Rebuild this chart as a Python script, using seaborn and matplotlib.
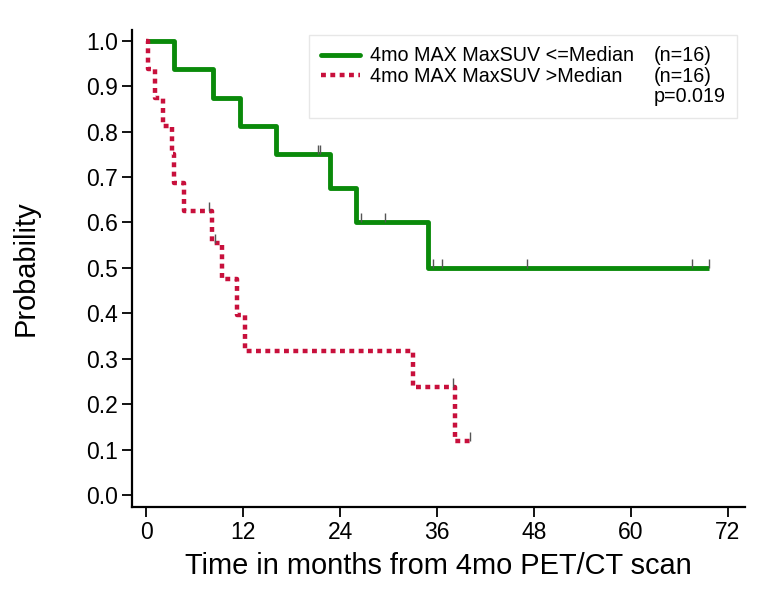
import matplotlib
matplotlib.use("Agg")
import matplotlib.pyplot as plt
from matplotlib.lines import Line2D
import seaborn as sns
import pandas as pd

# Kaplan-Meier steps (time in months, survival probability)
low_times = [0.0, 3.5, 8.3, 11.6, 16.1, 22.8, 26.0, 34.9, 69.7]
low_surv = [1.0, 0.9375, 0.875, 0.8125, 0.75, 0.675, 0.6, 0.5, 0.5]
low_cens_times = [21.3, 21.5, 26.6, 29.6, 35.5, 36.6, 47.1, 67.6, 69.7]
low_cens_surv = [0.75, 0.75, 0.6, 0.6, 0.5, 0.5, 0.5, 0.5, 0.5]

high_times = [0.0, 0.2, 1.1, 2.1, 3.2, 3.5, 4.7, 8.2, 9.4, 11.2, 12.2, 33.0, 38.2, 40.1]
high_surv = [1.0, 0.9375, 0.875, 0.8125, 0.75, 0.6875, 0.625, 0.5556, 0.4762,
             0.3968, 0.3175, 0.2381, 0.119, 0.119]
high_cens_times = [7.8, 8.5, 38.0, 40.1]
high_cens_surv = [0.625, 0.5556, 0.2381, 0.119]

group_labels = ["4mo MAX MaxSUV <=Median", "4mo MAX MaxSUV >Median"]
group_n = ["(n=16)", "(n=16)"]
p_text = "p=0.019"

x_ticks = [0, 12, 24, 36, 48, 60, 72]
y_ticks = [0.0, 0.1, 0.2, 0.3, 0.4, 0.5, 0.6, 0.7, 0.8, 0.9, 1.0]

green = "#0a8a0a"
red = "#c8103c"
red_dots = (0, (1.1, 1.0))

sns.set_style("ticks")
plt.rcParams["font.family"] = ["Liberation Sans", "DejaVu Sans"]
plt.rcParams["text.color"] = "black"

fig = plt.figure(figsize=(7.6, 5.97), dpi=100)
ax = fig.add_axes([0.174, 0.151, 0.806, 0.799])

low = pd.DataFrame({"time": low_times, "surv": low_surv})
high = pd.DataFrame({"time": high_times, "surv": high_surv})

sns.lineplot(data=low, x="time", y="surv", ax=ax, color=green, lw=3.5,
             drawstyle="steps-post", estimator=None, solid_capstyle="butt")
sns.lineplot(data=high, x="time", y="surv", ax=ax, color=red, lw=3.2,
             drawstyle="steps-post", estimator=None,
             linestyle=red_dots, dash_capstyle="butt")

# censor marks: short ticks sitting on top of the curve
for ct, cs in [(low_cens_times, low_cens_surv), (high_cens_times, high_cens_surv)]:
    ax.vlines(ct, cs, [s + 0.02 for s in cs], color="#555555", lw=1.0, zorder=3)

ax.set_xlim(-1.73, 74.1)
ax.set_ylim(-0.026, 1.024)
ax.set_xticks(x_ticks)
ax.set_yticks(y_ticks)
ax.set_yticklabels([f"{v:.1f}" for v in y_ticks])
ax.tick_params(axis="both", labelsize=16.5, length=7, width=1.3, color="black",
               labelcolor="black", pad=3)
for side in ["top", "right"]:
    ax.spines[side].set_visible(False)
for side in ["left", "bottom"]:
    ax.spines[side].set_linewidth(1.6)
    ax.spines[side].set_color("black")

ax.set_xlabel("Time in months from 4mo PET/CT scan", fontsize=20.9, labelpad=6, color="black")
ax.set_ylabel("Probability", fontsize=20.9, labelpad=34, color="black")

# legend: two columns, names with line handles and the n / p column on the right
blank = Line2D([], [], color="none")
handles = [Line2D([], [], color=green, lw=3.5),
           Line2D([], [], color=red, lw=3.2, linestyle=red_dots),
           blank, blank, blank, blank]
labels = [group_labels[0], group_labels[1], " ", group_n[0], group_n[1], p_text]
leg = ax.legend(handles, labels, ncol=2, loc="upper right", bbox_to_anchor=(0.988, 0.99),
                fontsize=14.2, frameon=True, fancybox=False, handlelength=2.0,
                handletextpad=0.5, columnspacing=-1.5, labelspacing=0.06,
                borderpad=0.6, borderaxespad=0.0)
leg.get_frame().set_edgecolor("#e2e2e2")
leg.get_frame().set_linewidth(1.0)
for t in leg.get_texts():
    t.set_color("black")

fig.savefig("out.png", dpi=100)
